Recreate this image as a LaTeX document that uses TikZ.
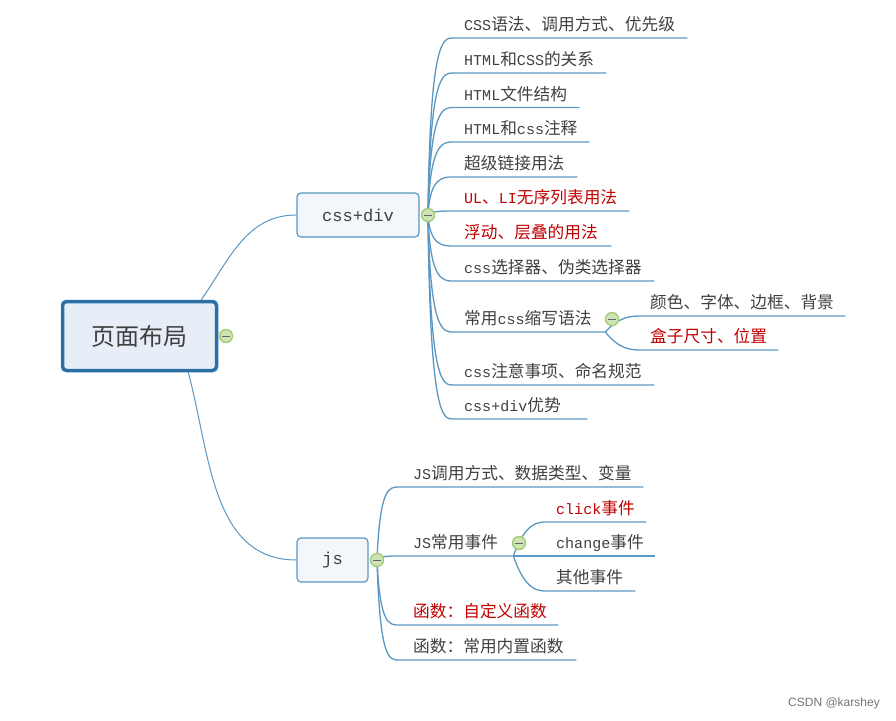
\documentclass[tikz,border=0pt]{standalone}
\usepackage{fontspec}
\setmainfont{Noto Sans CJK SC}
\setmonofont[Scale=0.9]{Liberation Mono}
\newfontfamily\markfont{Liberation Sans}
\usetikzlibrary{backgrounds}
\definecolor{linkblue}{HTML}{5A97C2}
\definecolor{rootblue}{HTML}{2A6FA5}
\definecolor{rootfill}{HTML}{E8EEF7}
\definecolor{topicfill}{HTML}{F3F6FB}
\definecolor{hubline}{HTML}{A3CC78}
\definecolor{hubfill}{HTML}{CFE4B4}
\definecolor{inktext}{HTML}{404040}
\definecolor{inkred}{HTML}{C00000}
\begin{document}
\begin{tikzpicture}[
  x = 1pt, y = -1pt,
  % Each leaf sits on its own underline: the south side of the node is that line.
  leaf/.style   = {anchor=south west, align=left, text width=#1, inner xsep=0pt, inner ysep=0pt,
                   text height=14pt, text depth=7pt, text=inktext, font=\fontsize{16.7}{20}\selectfont},
  hot/.style    = {text=inkred},
  link/.style   = {draw=linkblue, line width=1.3pt},
  branch/.style = {draw=linkblue, line width=1pt},
  root/.style   = {draw=rootblue, line width=3.5pt, fill=rootfill, rounded corners=4pt,
                   text=inktext, font=\fontsize{24}{28}\selectfont, minimum width=154pt, minimum height=69pt},
  topic/.style  = {draw=linkblue, line width=1.2pt, fill=topicfill, rounded corners=4pt,
                   text=inktext, font=\fontsize{19}{22}\selectfont, minimum height=44pt},
  hub/.style    = {circle, draw=hubline, line width=1.4pt, fill=hubfill, minimum size=13pt, inner sep=0pt,
                   path picture={\draw[line width=1pt, black!60]
                     ([xshift=-4pt]path picture bounding box.center) -- ([xshift=4pt]path picture bounding box.center);}},
]
\useasboundingbox (0, 0) rectangle (896, 720);

% --- main boxes
\node[root] (layout) at (139.5, 336) {页面布局};
\node[topic, minimum width=122pt] (cssdiv) at (358, 215) {\texttt{css+div}};
\node[topic, minimum width=71pt] (js) at (332.5, 560) {\texttt{js}};
\node[hub] (layouthub) at (226, 336) {};
\node[hub] (csshub) at (428, 215) {};
\node[hub] (jshub) at (377, 560) {};
\node[hub] (shorthandhub) at (612, 319) {};
\node[hub] (eventhub) at (519, 543) {};

% --- css+div leaves
\node[leaf=223pt] (csssyntax) at (464, 38) {\texttt{CSS}语法、调用方式、优先级};
\node[leaf=142pt] (htmlcss) at (464, 73) {\texttt{HTML}和\texttt{CSS}的关系};
\node[leaf=115pt] (htmlfile) at (464, 107.5) {\texttt{HTML}文件结构};
\node[leaf=125pt] (htmlnote) at (464, 142) {\texttt{HTML}和\texttt{css}注释};
\node[leaf=113pt] (hyperlink) at (464, 177) {超级链接用法};
\node[leaf=165pt, hot] (ullist) at (464, 211) {\texttt{UL}、\texttt{LI}无序列表用法};
\node[leaf=147pt, hot] (floatuse) at (464, 246) {浮动、层叠的用法};
\node[leaf=190pt] (selector) at (464, 281) {\texttt{css}选择器、伪类选择器};
\node[leaf=141pt] (shorthand) at (464, 332) {常用\texttt{css}缩写语法};
\node[leaf=190pt] (caution) at (464, 385) {\texttt{css}注意事项、命名规范};
\node[leaf=123pt] (advantage) at (464, 419) {\texttt{css+div}优势};
\node[leaf=195pt] (colorfont) at (650, 316) {颜色、字体、边框、背景};
\node[leaf=128pt, hot] (boxsize) at (650, 350) {盒子尺寸、位置};

% --- js leaves
\node[leaf=230pt] (jscall) at (413, 487) {\texttt{JS}调用方式、数据类型、变量};
\node[leaf=100pt] (jsevent) at (413, 556) {\texttt{JS}常用事件};
\node[leaf=145pt, hot] (jsfunc) at (413, 625) {函数：自定义函数};
\node[leaf=163pt] (jsbuiltin) at (413, 660) {函数：常用内置函数};
\node[leaf=90pt, hot] (click) at (556, 522) {\texttt{click}事件};
\node[leaf=99pt] (change) at (556, 556) {\texttt{change}事件};
\node[leaf=79pt] (other) at (556, 591) {其他事件};

% --- connectors go under the hubs
\begin{scope}[on background layer]
\draw[branch] ([xshift=-17pt]layout.north east) to[out=55, in=180] (cssdiv.west);
\draw[branch] ([xshift=-30pt]layout.south east) to[out=-75, in=180] (js.west);
\foreach \leafname in {csssyntax, htmlcss, htmlfile, htmlnote, hyperlink, ullist, floatuse, selector, shorthand, caution, advantage} {
  \draw[link] (csshub.center) .. controls ([xshift=2pt]csshub |- \leafname.south west) and ([xshift=-21pt]\leafname.south west) .. ([xshift=-11pt]\leafname.south west) -- (\leafname.south east);
}
\foreach \leafname in {jscall, jsevent, jsfunc, jsbuiltin} {
  \draw[link] (jshub.center) .. controls ([xshift=3pt]jshub |- \leafname.south west) and ([xshift=-24pt]\leafname.south west) .. ([xshift=-14pt]\leafname.south west) -- (\leafname.south east);
}
\foreach \leafname in {colorfont, boxsize} {
  \draw[link] (shorthand.south east) .. controls ([xshift=14pt]shorthand.south east |- \leafname.south west) and ([xshift=-18pt]\leafname.south west) .. ([xshift=-8pt]\leafname.south west) -- (\leafname.south east);
}
\foreach \leafname in {click, change, other} {
  \draw[link] (jsevent.south east) .. controls ([xshift=12pt]jsevent.south east |- \leafname.south west) and ([xshift=-18pt]\leafname.south west) .. ([xshift=-9pt]\leafname.south west) -- (\leafname.south east);
}
\end{scope}

\node[text=black!55, font=\markfont\fontsize{12}{14}\selectfont] (watermark) at (834, 703) {CSDN @karshey};
\end{tikzpicture}
\end{document}
